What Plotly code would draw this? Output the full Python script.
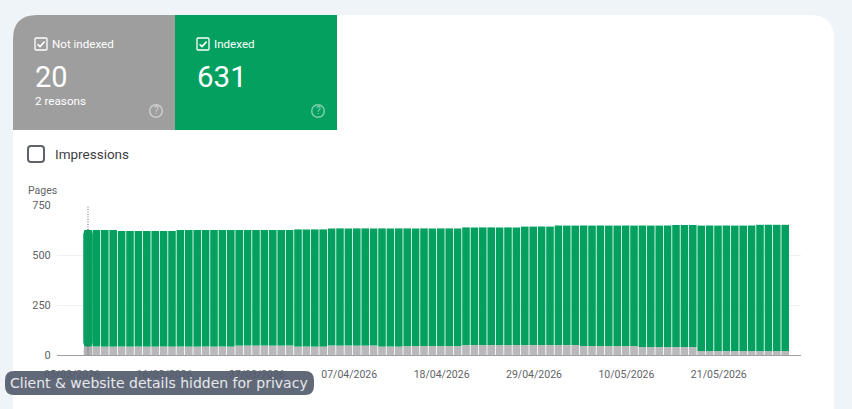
from datetime import date, timedelta
import plotly.graph_objects as go

W, H = 852, 409
START = date(2026, 3, 5)

not_indexed = [
    42, 42, 42, 42, 42, 42, 42, 42, 42, 42, 42, 42, 42, 42, 42, 42, 42, 42,
    47, 47, 47, 47, 47, 47, 47,
    42, 42, 42, 42,
    47, 47, 47, 47, 47, 47,
    42, 42, 42,
    45, 45, 45, 45, 45, 45, 45,
    50, 50, 50, 50, 50, 50, 50, 50, 50, 50, 50, 50, 50, 50,
    45, 45, 45, 45, 45, 45, 45,
    40, 40, 40, 40, 40, 40, 40,
    20, 20, 20, 20, 20, 20, 20, 20, 20, 20, 20,
]
indexed = [
    583, 583, 583, 583,
    578, 578, 578, 578, 578, 578, 578,
    583, 583, 583, 583, 583, 583, 583,
    578, 578, 578, 578, 578, 578, 578,
    586, 586, 586, 586, 586, 586, 586, 586, 586, 586,
    591, 591, 591,
    588, 588, 588, 588, 588, 588, 588, 588, 588, 588, 588, 588, 588, 588,
    592, 592, 592, 592,
    597, 597, 597,
    602, 602, 602, 602, 602, 602, 602,
    607, 607, 607, 607,
    610, 610, 610,
    627, 627, 627, 627, 627, 627, 627,
    631, 631, 631, 631,
]
days = [START + timedelta(days=i) for i in range(len(indexed))]
y_ticks = [0, 250, 500, 750]

GREEN = "#03a05f"
GREY_CARD = "#9e9e9e"
GREY_BAR = "#b9b9bb"
DAY_MS = 86400000


def px(x):
    return x / W


def py(y):
    return 1 - y / H


def rounded(x0, y0, x1, y1, tl=0, tr=0, br=0, bl=0):
    """SVG path of a box in pixel terms, converted to paper fractions."""
    p = lambda x, y: f"{px(x):.5f},{py(y):.5f}"
    return (
        f"M{p(x0 + tl, y0)} L{p(x1 - tr, y0)} Q{p(x1, y0)} {p(x1, y0 + tr)} "
        f"L{p(x1, y1 - br)} Q{p(x1, y1)} {p(x1 - br, y1)} "
        f"L{p(x0 + bl, y1)} Q{p(x0, y1)} {p(x0, y1 - bl)} "
        f"L{p(x0, y0 + tl)} Q{p(x0, y0)} {p(x0 + tl, y0)} Z"
    )


def panel(path, fill, line=None, width=0, layer="below", opacity=1):
    return dict(type="path", xref="paper", yref="paper", path=path, fillcolor=fill,
                line=dict(color=line or "rgba(0,0,0,0)", width=width),
                layer=layer, opacity=opacity)


def label(x, y, text, size, color="#ffffff", family="Roboto", anchor="left"):
    return dict(xref="paper", yref="paper", x=px(x), y=py(y), text=text, showarrow=False,
                xanchor=anchor, yanchor="middle", borderpad=0, borderwidth=0,
                font=dict(family=family, size=size, color=color))


def checkbox(x, y):
    box = panel(rounded(x, y, x + 12, y + 12, 1, 1, 1, 1), "rgba(0,0,0,0)", "#ffffff", 1.3, "above")
    tick = (f"M{px(x + 2.6):.5f},{py(y + 6.2):.5f} L{px(x + 5):.5f},{py(y + 8.6):.5f} "
            f"L{px(x + 9.6):.5f},{py(y + 3.6):.5f}")
    mark = dict(type="path", xref="paper", yref="paper", path=tick, layer="above",
                line=dict(color="#ffffff", width=1.6))
    return [box, mark]


def help_ring(cx, cy, r=6.3):
    return dict(type="circle", xref="paper", yref="paper", x0=px(cx - r), x1=px(cx + r),
                y0=py(cy + r), y1=py(cy - r), layer="above", opacity=0.5,
                line=dict(color="#ffffff", width=1.4))


shapes = [
    panel(rounded(13, 15, 834, 430, 24, 24, 0, 0), "#ffffff"),
    panel(rounded(13, 15, 175, 130, 24, 0, 0, 0), GREY_CARD),
    panel(rounded(175, 15, 337, 130), GREEN),
    *checkbox(35, 38),
    *checkbox(197, 38),
    help_ring(156, 111),
    help_ring(318, 111),
    panel(rounded(28, 146, 44, 162, 3, 3, 3, 3), "#ffffff", "#5f6368", 2, "above"),
    dict(type="line", xref="x", yref="y", x0=days[0], x1=days[0], y0=0, y1=750, layer="above",
         line=dict(color="#5f6368", width=1, dash="1px,1.5px")),
    panel(rounded(5, 371, 314, 395, 9, 9, 9, 9), "#545b6c", layer="above", opacity=0.92),
]

annotations = [
    label(52, 44, "Not indexed", 11.6),
    label(35, 77, "20", 29),
    label(35, 101, "2 reasons", 11.7),
    label(214, 44, "Indexed", 11.6),
    label(197, 77, "631", 29.5),
    label(156, 111, "?", 10, "rgba(255,255,255,0.55)", anchor="center"),
    label(318, 111, "?", 10, "rgba(255,255,255,0.55)", anchor="center"),
    label(55, 154, "Impressions", 13.5, "#3c4043"),
    label(28, 190, "Pages", 10.5, "#5f6368"),
    label(10, 383, "Client &amp; website details hidden for privacy", 14, "#e6e8ec", "DejaVu Sans"),
]

fig = go.Figure()
fig.add_bar(name="Not indexed", x=days, y=not_indexed, width=0.9 * DAY_MS,
            marker=dict(color=GREY_BAR, line_width=0))
fig.add_bar(name="Indexed", x=days, y=indexed, base=not_indexed, width=0.9 * DAY_MS,
            marker=dict(color=GREEN, line_width=0))
# The first day is drawn emphasised: wider, with rounded tops
fig.add_bar(name="Indexed", x=days[:1], y=indexed[:1], base=not_indexed[:1], width=DAY_MS,
            marker=dict(color=GREEN, cornerradius=4, line=dict(color=GREEN, width=1)))
fig.add_bar(name="Not indexed", x=days[:1], y=not_indexed[:1], width=DAY_MS,
            marker=dict(color="#b0b0b2", cornerradius=3, line_width=0))

fig.update_layout(
    width=W, height=H, margin=dict(l=0, r=0, t=0, b=0, autoexpand=False),
    paper_bgcolor="#eff4f9", plot_bgcolor="rgba(0,0,0,0)",
    barmode="overlay", showlegend=False, hovermode=False,
    shapes=shapes, annotations=annotations,
    font=dict(family="Roboto", color="#5f6368"),
    xaxis=dict(
        domain=[px(57), px(801)], type="date", automargin=False,
        range=["2026-03-01 07:26", "2026-05-28 21:07"],
        tick0=START.isoformat(), dtick=11 * DAY_MS, tickformat="%d/%m/%Y",
        ticks="outside", ticklen=9, tickcolor="rgba(0,0,0,0)", ticklabelshift=-16,
        showgrid=False, tickfont=dict(size=10.5, color="#5f6368"),
        showline=True, linecolor="#9aa0a6", linewidth=1, zeroline=False,
    ),
    yaxis=dict(
        domain=[py(355), py(205)], range=[0, 750], tickmode="array", tickvals=y_ticks,
        automargin=False,
        ticks="outside", ticklen=3, tickcolor="rgba(0,0,0,0)", tickfont=dict(size=11, color="#5f6368"),
        showgrid=True, gridcolor="#f1f1f1", gridwidth=1, zeroline=False, showline=False,
    ),
)

fig.write_html("out.html", config={"displayModeBar": False})
